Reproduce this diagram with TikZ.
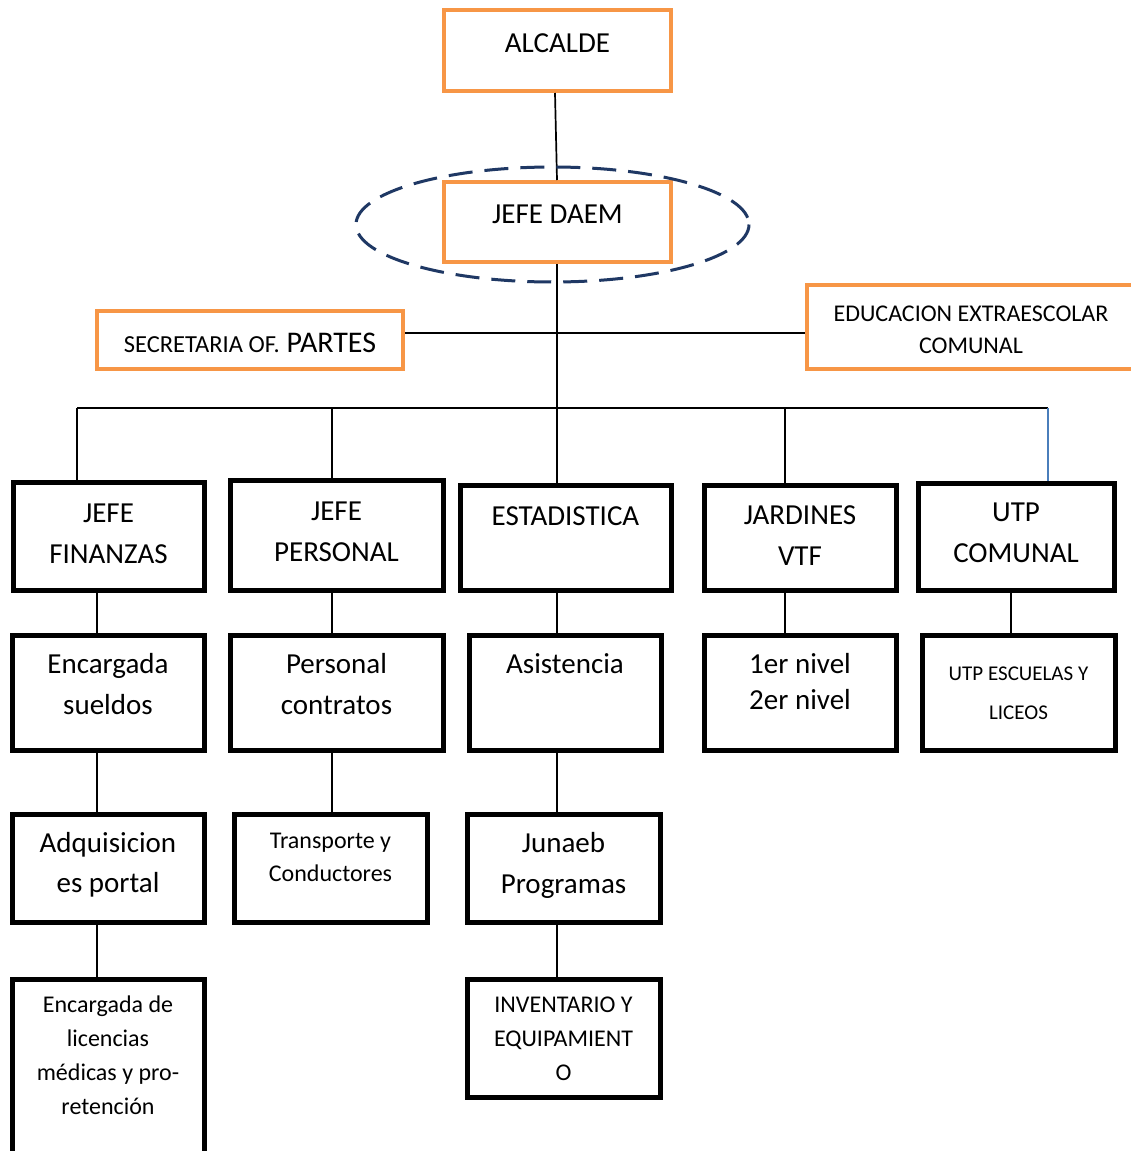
\documentclass[tikz,border=0pt]{standalone}
\usepackage{fontspec}
\setmainfont{Carlito}
\usetikzlibrary{calc}

\definecolor{naranja}{HTML}{F79646}
\definecolor{marino}{HTML}{1F3864}
\definecolor{azul}{HTML}{4A7EBB}

% caja de texto alineada arriba: ancho, alto, primera linea base, texto
\newcommand{\celda}[4]{\parbox[c][#2pt][t]{#1pt}{\centering\rule{0pt}{#3pt}#4}}

\begin{document}
\begin{tikzpicture}[x=1pt,y=-1pt,
  jefatura/.style={draw=naranja, line width=4pt, inner sep=0pt},
  unidad/.style={draw, line width=5pt, inner sep=0pt},
  grande/.style={font=\fontsize{29}{41}\selectfont},
  mediana/.style={font=\fontsize{24}{34}\selectfont},
  enlace/.style={line width=1.7pt}]
  \fill[white] (0,0) rectangle (1131,1151);
  \clip (0,0) rectangle (1131,1151);

  % columnas y barras
  \coordinate (colA) at (97,0);
  \coordinate (colB) at (332,0);
  \coordinate (colC) at (557,0);
  \coordinate (colD) at (785,0);
  \coordinate (colE) at (1011,0);
  \coordinate (hub)  at (557,333);
  \coordinate (bus)  at (557,408);
  \coordinate (busL) at (77,408);
  \coordinate (busR) at (1048,408);

  % direccion
  \node[jefatura, grande] (alcalde) at (557.5,50.5) {\celda{227}{81}{42}{ALCALDE}};
  \node[jefatura, grande] (daem) at (557.5,222) {\celda{227}{80}{41}{JEFE DAEM}};
  \node[jefatura, font=\fontsize{30}{41}\selectfont] (secretaria) at (250,340)
    {\celda{306}{58}{41}{{\fontsize{24.5}{34}\selectfont SECRETARIA OF.} PARTES}};
  \node[jefatura, font=\fontsize{24}{32}\selectfont] (extra) at (971,327)
    {\celda{328}{84}{36}{EDUCACION EXTRAESCOLAR\\COMUNAL}};

  % primer nivel
  \node[unidad, grande] (finanzas) at (108.5,536) {\celda{191}{108}{40}{JEFE\\FINANZAS}};
  \node[unidad, grande] (personal) at (336.5,535) {\celda{213}{110}{40}{JEFE\\PERSONAL}};
  \node[unidad, grande] (estadistica) at (565.5,537.5) {\celda{211}{105}{40}{ESTADISTICA}};
  \node[unidad, grande] (jardines) at (800,537.5) {\celda{192}{105}{39}{JARDINES\\VTF}};
  \node[unidad, grande] (utp) at (1016,536.5) {\celda{196}{107}{38}{UTP\\COMUNAL}};

  % segundo nivel
  \node[unidad, grande] (sueldos) at (108,692.5) {\celda{192}{115}{38}{Encargada\\sueldos}};
  \node[unidad, grande] (contratos) at (336.5,692.5) {\celda{213}{115}{38}{Personal\\contratos}};
  \node[unidad, grande] (asistencia) at (565,692.5) {\celda{192}{115}{38}{Asistencia}};
  \node[unidad, font=\fontsize{29}{36}\selectfont] (niveles) at (800,692.5)
    {\celda{192}{115}{38}{1er nivel\\2er nivel}};
  \node[unidad, font=\fontsize{21}{39}\selectfont] (escuelas) at (1018.5,692.5)
    {\celda{193}{115}{45}{UTP ESCUELAS Y\\LICEOS}};

  % tercer nivel
  \node[unidad, font=\fontsize{29}{40}\selectfont] (adquisiciones) at (108,868)
    {\celda{192}{108}{38}{Adquisicion\\es portal}};
  \node[unidad, font=\fontsize{24}{33}\selectfont] (transporte) at (330.5,868)
    {\celda{193}{108}{34}{Transporte y\\Conductores}};
  \node[unidad, grande] (junaeb) at (563.5,868) {\celda{193}{108}{38}{Junaeb\\Programas}};

  % cuarto nivel
  \node[unidad, mediana] (licencias) at (108,1072)
    {\celda{192}{186}{33}{Encargada de\\licencias\\médicas y pro-\\retención}};
  \node[unidad, mediana] (inventario) at (563.5,1038)
    {\celda{193}{118}{33}{INVENTARIO Y\\EQUIPAMIENT\\O}};

  % enlaces
  \draw[enlace] ([xshift=-2.5pt]alcalde.south) -- (daem.north -| colC);
  \draw[enlace] (daem.south -| colC) -- (bus);
  \draw[enlace] (secretaria.east |- hub) -- (extra.west |- hub);
  \draw[enlace] (busL) -- (busR);
  \draw[enlace] (busL) -- (finanzas.north -| busL);
  \draw[enlace] (bus -| colB) -- (personal.north -| colB);
  \draw[enlace] (bus) -- (estadistica.north -| colC);
  \draw[enlace] (bus -| colD) -- (jardines.north -| colD);
  \draw[enlace, draw=azul, line width=1.2pt] (busR) -- (utp.north -| busR);

  \draw[enlace] (finanzas.south -| colA) -- (sueldos.north -| colA);
  \draw[enlace] (sueldos.south -| colA) -- (adquisiciones.north -| colA);
  \draw[enlace] (adquisiciones.south -| colA) -- (licencias.north -| colA);
  \draw[enlace] (personal.south -| colB) -- (contratos.north -| colB);
  \draw[enlace] (contratos.south -| colB) -- (transporte.north -| colB);
  \draw[enlace] (estadistica.south -| colC) -- (asistencia.north -| colC);
  \draw[enlace] (asistencia.south -| colC) -- (junaeb.north -| colC);
  \draw[enlace] (junaeb.south -| colC) -- (inventario.north -| colC);
  \draw[enlace] (jardines.south -| colD) -- (niveles.north -| colD);
  \draw[enlace] (utp.south -| colE) -- (escuelas.north -| colE);

  % ovalo de la jefatura
  \draw[marino, line width=3pt, dash pattern=on 24pt off 12pt]
    (552.5,224.5) ellipse [x radius=196.5, y radius=57.5];
\end{tikzpicture}
\end{document}
